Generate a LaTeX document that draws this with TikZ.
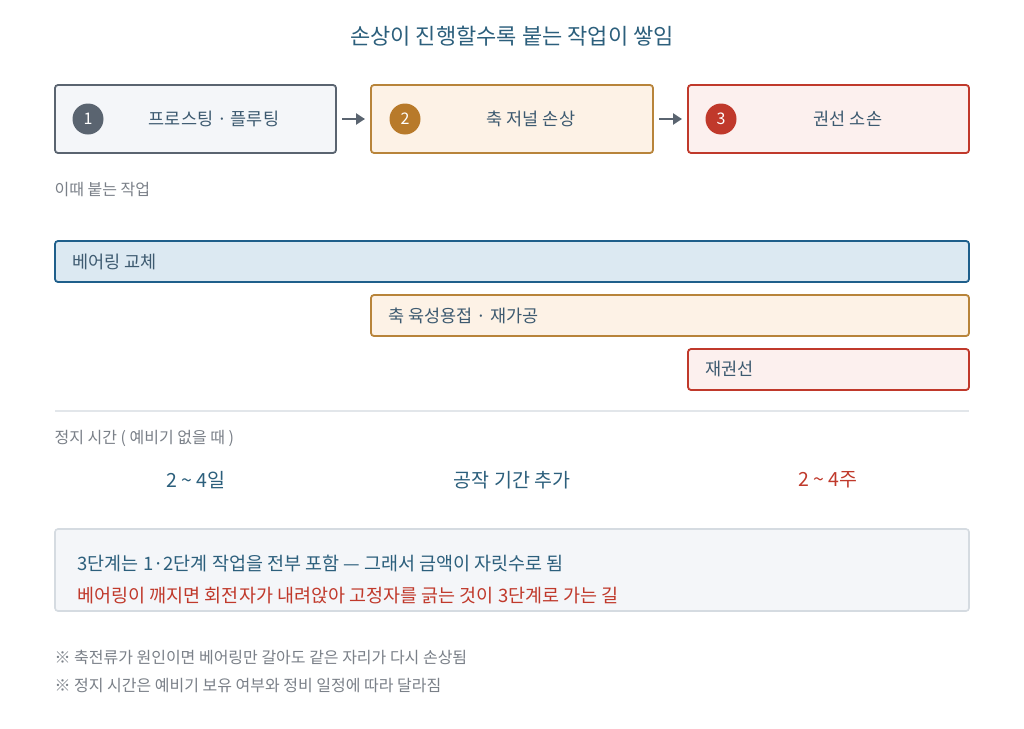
\documentclass[tikz,border=0pt]{standalone}
\usepackage{fontspec}
\setmainfont{Noto Sans CJK KR}
\usetikzlibrary{arrows.meta}
\definecolor{titlec}{HTML}{2C5F7C}
\definecolor{txtc}{HTML}{3D5A70}
\definecolor{grayc}{HTML}{7A8088}
\definecolor{sgray}{HTML}{5A6470}
\definecolor{sfill}{HTML}{F4F6F9}
\definecolor{ofill}{HTML}{FDF2E6}
\definecolor{obord}{HTML}{B8843A}
\definecolor{ocirc}{HTML}{B87A2A}
\definecolor{rfill}{HTML}{FCF0EE}
\definecolor{rbord}{HTML}{C0392B}
\definecolor{bfill}{HTML}{DCE9F2}
\definecolor{bbord}{HTML}{1F5F8B}
\definecolor{linec}{HTML}{E2E6EA}
\definecolor{nbord}{HTML}{D5DBE1}
\begin{document}
\begin{tikzpicture}[x=1pt,y=-1pt,
  stagebox/.style={draw,line width=1.8pt,rounded corners=3pt},
  barbox/.style={draw,line width=1.8pt,rounded corners=3pt},
  numcirc/.style={circle,minimum size=31pt,inner sep=0pt,text=white,font=\fontsize{16}{18}\selectfont},
  boxtxt/.style={text=txtc,font=\fontsize{17.5}{20}\selectfont},
  smalltxt/.style={text=grayc,font=\fontsize{16}{18}\selectfont,anchor=west},
  flowarrow/.style={-{Triangle[length=9pt,width=11pt]},line width=2.6pt,draw=sgray}]
\useasboundingbox (0,0) rectangle (1024,728);
\fill[white] (0,0) rectangle (1024,728);
\node[text=titlec,font=\fontsize{22}{26}\selectfont] (title) at (512,36) {손상이 진행할수록 붙는 작업이 쌓임};
% stage boxes
\draw[stagebox,draw=sgray,fill=sfill] (55,85) rectangle (336,153);
\node[coordinate] (b1r) at (336,119) {};
\node[numcirc,fill=sgray] (c1) at (88,119) {1};
\node[boxtxt] (t1) at (214,119) {프로스팅 · 플루팅};
\draw[stagebox,draw=obord,fill=ofill] (371,85) rectangle (653,153);
\node[coordinate] (b2l) at (371,119) {};
\node[coordinate] (b2r) at (653,119) {};
\node[numcirc,fill=ocirc] (c2) at (405,119) {2};
\node[boxtxt] (t2) at (531,119) {축 저널 손상};
\draw[stagebox,draw=rbord,fill=rfill] (688,85) rectangle (969,153);
\node[coordinate] (b3l) at (688,119) {};
\node[numcirc,fill=rbord] (c3) at (721,119) {3};
\node[boxtxt] (t3) at (848,119) {권선 소손};
\draw[flowarrow] ([xshift=6pt]b1r) -- ([xshift=-6pt]b2l);
\draw[flowarrow] ([xshift=6pt]b2r) -- ([xshift=-6pt]b3l);
% section label
\node[smalltxt] (lab1) at (51,190) {이때 붙는 작업};
% bars
\draw[barbox,draw=bbord,fill=bfill] (55,241) rectangle (969,282);
\node[boxtxt,anchor=west] (bar1) at (69,262) {베어링 교체};
\draw[barbox,draw=obord,fill=ofill] (371,295) rectangle (969,336);
\node[boxtxt,anchor=west] (bar2) at (385,316) {축 육성용접 · 재가공};
\draw[barbox,draw=rbord,fill=rfill] (688,349) rectangle (969,390);
\node[boxtxt,anchor=west] (bar3) at (702,369) {재권선};
% separator
\draw[linec,line width=2pt] (55,411) -- (969,411);
\node[smalltxt] (lab2) at (51,438) {정지 시간 ( 예비기 없을 때 )};
\node[text=titlec,font=\fontsize{19.5}{22}\selectfont] (d1) at (196,480) {2 \textasciitilde{} 4일};
\node[text=titlec,font=\fontsize{19.5}{22}\selectfont] (d2) at (512,480) {공작 기간 추가};
\node[text=rbord,font=\fontsize{19.5}{22}\selectfont] (d3) at (828,480) {2 \textasciitilde{} 4주};
% note box
\draw[draw=nbord,fill=sfill,line width=1.6pt,rounded corners=3pt] (55,529) rectangle (969,611);
\node[text=titlec,font=\fontsize{18.5}{21}\selectfont,anchor=west] (n1) at (74,564) {3단계는 1·2단계 작업을 전부 포함 — 그래서 금액이 자릿수로 됨};
\node[text=rbord,font=\fontsize{18.5}{21}\selectfont,anchor=west] (n2) at (74,596) {베어링이 깨지면 회전자가 내려앉아 고정자를 긁는 것이 3단계로 가는 길};
% footnotes
\node[smalltxt] (f1) at (51,657) {※ 축전류가 원인이면 베어링만 갈아도 같은 자리가 다시 손상됨};
\node[smalltxt] (f2) at (51,685) {※ 정지 시간은 예비기 보유 여부와 정비 일정에 따라 달라짐};
\end{tikzpicture}
\end{document}
